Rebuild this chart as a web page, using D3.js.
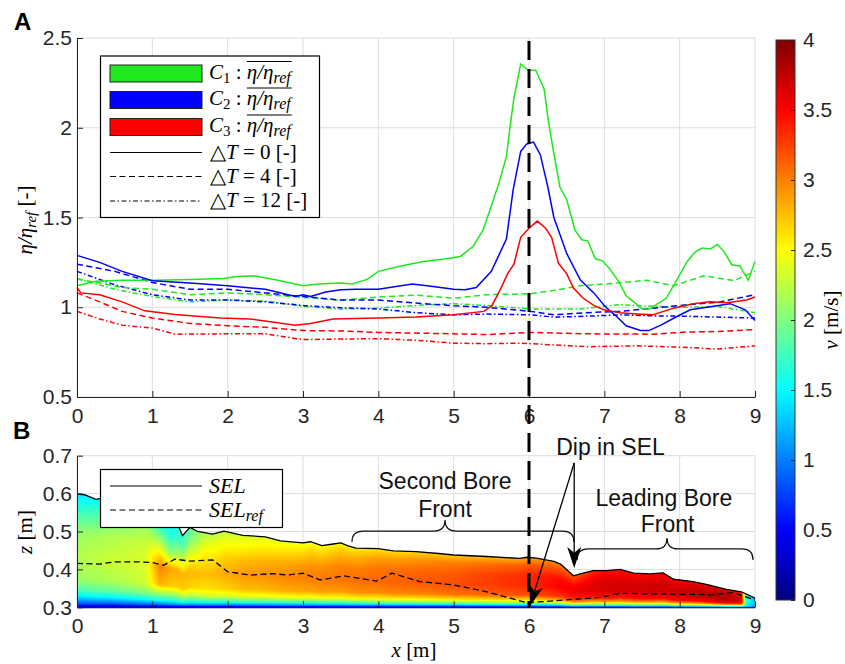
<!DOCTYPE html>
<html lang="en">
<head>
<meta charset="UTF-8">
<title>Bore fronts: eta/eta_ref and SEL</title>
<script src="https://d3js.org/d3.v7.min.js"></script>
<style>
  body { margin: 0; background: #fff; }
  svg { display: block; font-family: "Liberation Sans", Arial, sans-serif; }
  .math { font-family: "Liberation Serif", "Times New Roman", serif; }
</style>
</head>
<body>
<svg id="chart" width="845" height="664"></svg>
<script>
// ---- panel A: eta/eta_ref along the flume, [x, value]
const C1_DT0 = [[0,1.12],[0.25,1.145],[0.6,1.15],[1,1.15],[1.5,1.155],[1.95,1.16],[2.1,1.17],[2.35,1.175],[2.7,1.148],[3,1.12],[3.2,1.13],[3.5,1.135],[3.65,1.13],[3.85,1.155],[4,1.2],[4.3,1.23],[4.6,1.255],[4.9,1.27],[5.09,1.283],[5.26,1.34],[5.39,1.43],[5.48,1.54],[5.6,1.69],[5.7,1.84],[5.75,2.01],[5.8,2.166],[5.89,2.355],[5.99,2.32],[6.09,2.32],[6.2,2.216],[6.26,2.03],[6.32,1.88],[6.41,1.67],[6.5,1.6],[6.61,1.43],[6.7,1.376],[6.78,1.37],[6.88,1.27],[6.97,1.26],[7.06,1.22],[7.19,1.144],[7.29,1.064],[7.39,1.03],[7.5,0.99],[7.6,0.99],[7.69,1.014],[7.82,1.05],[7.96,1.15],[8.1,1.255],[8.21,1.31],[8.3,1.33],[8.41,1.325],[8.5,1.35],[8.59,1.31],[8.69,1.237],[8.8,1.23],[8.91,1.15],[9,1.255]];
const C2_DT0 = [[0,1.289],[0.3,1.25],[0.6,1.2],[1,1.148],[1.5,1.135],[2,1.12],[2.5,1.1],[2.9,1.06],[3,1.07],[3.1,1.06],[3.3,1.085],[3.5,1.098],[3.7,1.1],[4,1.1],[4.45,1.13],[4.65,1.12],[5,1.1],[5.15,1.098],[5.3,1.11],[5.5,1.2],[5.7,1.38],[5.79,1.655],[5.89,1.868],[5.97,1.91],[6.06,1.92],[6.15,1.85],[6.25,1.67],[6.33,1.5],[6.39,1.43],[6.5,1.3],[6.68,1.153],[6.86,1.08],[7.01,1.004],[7.16,0.95],[7.29,0.897],[7.48,0.87],[7.59,0.87],[7.75,0.9],[7.97,0.95],[8.14,0.986],[8.36,1.0],[8.67,1.02],[8.87,0.986],[9,0.926]];
const C3_DT0 = [[0,1.11],[0.05,1.08],[0.3,1.07],[0.6,1.03],[0.9,0.98],[1.3,0.96],[1.9,0.94],[2.3,0.935],[2.9,0.9],[3.1,0.91],[3.4,0.935],[4,0.94],[4.5,0.945],[5,0.958],[5.4,0.977],[5.51,1.01],[5.62,1.1],[5.72,1.19],[5.8,1.24],[5.89,1.39],[6.0,1.44],[6.11,1.48],[6.22,1.44],[6.3,1.39],[6.39,1.246],[6.5,1.187],[6.59,1.107],[6.72,1.05],[6.86,1.01],[6.99,0.986],[7.21,0.97],[7.43,0.963],[7.65,0.958],[7.92,0.995],[8.18,1.02],[8.4,1.03],[8.63,1.025],[8.89,1.04],[9,1.057]];
const C1_DT4 = [[0,1.157],[0.3,1.135],[0.6,1.11],[1,1.1],[1.5,1.07],[2,1.08],[2.5,1.07],[3,1.055],[3.5,1.04],[4,1.057],[4.5,1.068],[5,1.05],[5.44,1.07],[6.02,1.075],[6.33,1.094],[6.68,1.12],[7.03,1.13],[7.56,1.15],[7.92,1.12],[8.32,1.175],[8.72,1.148],[9,1.2]];
const C2_DT4 = [[0,1.24],[0.5,1.2],[1,1.138],[1.5,1.1],[2,1.1],[2.5,1.08],[3,1.06],[3.5,1.04],[4,1.04],[4.5,1.023],[5,1.008],[5.44,1.0],[6.02,0.977],[6.33,0.958],[6.77,0.97],[7.21,0.977],[7.65,0.995],[8.1,1.014],[8.5,1.027],[9,1.07]];
const C3_DT4 = [[0,1.08],[0.3,1.03],[0.6,0.977],[1,0.94],[1.5,0.91],[2,0.897],[2.5,0.888],[3,0.87],[3.5,0.868],[4,0.86],[5,0.852],[5.44,0.848],[6.02,0.86],[6.77,0.852],[7.65,0.85],[8.1,0.862],[8.5,0.865],[9,0.875]];
const C1_DT12 = [[0,1.16],[0.5,1.1],[1,1.06],[1.5,1.03],[2,1.04],[2.5,1.035],[3,1.005],[3.5,0.99],[4,0.995],[4.5,1.01],[5,1.02],[5.44,1.01],[6.02,0.99],[6.68,0.99],[7.2,1.014],[7.65,1.005],[8.1,1.0],[8.5,1.005],[9,0.97]];
const C2_DT12 = [[0,1.2],[0.5,1.125],[1,1.07],[1.5,1.04],[2,1.04],[2.5,1.03],[3,1.01],[3.5,0.997],[4,0.99],[4.5,0.97],[5,0.958],[5.44,0.962],[6.02,0.958],[6.33,0.945],[6.77,0.95],[7.21,0.958],[7.65,0.952],[8.1,0.95],[8.5,0.945],[9,0.94]];
const C3_DT12 = [[0,0.977],[0.3,0.935],[0.6,0.9],[1,0.884],[1.3,0.85],[2,0.852],[2.5,0.852],[3,0.82],[3.5,0.823],[4,0.825],[4.5,0.816],[5,0.8],[5.44,0.797],[5.9,0.8],[6.77,0.78],[7.43,0.785],[8.1,0.776],[8.5,0.767],[9,0.785]];

// ---- panel B: surface elevation [x, z]
const SEL = [[0,0.599],[0.1,0.597],[0.25,0.585],[0.4,0.59],[0.7,0.57],[1.0,0.55],[1.3,0.52],[1.35,0.513],[1.4,0.489],[1.5,0.511],[1.6,0.5],[1.8,0.493],[1.95,0.501],[2.2,0.49],[2.5,0.486],[2.7,0.475],[3,0.47],[3.1,0.473],[3.25,0.463],[3.4,0.467],[3.5,0.47],[3.6,0.462],[3.7,0.456],[4,0.455],[4.2,0.449],[4.5,0.447],[4.8,0.442],[5,0.438],[5.44,0.434],[5.88,0.429],[5.97,0.432],[6.1,0.43],[6.33,0.421],[6.42,0.414],[6.53,0.394],[6.59,0.383],[6.68,0.388],[6.85,0.397],[7.03,0.397],[7.21,0.4],[7.39,0.39],[7.6,0.388],[7.78,0.391],[7.92,0.374],[8.18,0.368],[8.37,0.36],[8.62,0.347],[8.82,0.341],[9,0.324]];
const SEL_REF = [[0,0.416],[0.3,0.414],[0.5,0.42],[0.8,0.42],[1,0.418],[1.15,0.411],[1.3,0.427],[1.5,0.422],[1.8,0.425],[2,0.394],[2.3,0.385],[2.6,0.389],[2.8,0.385],[3,0.39],[3.23,0.372],[3.54,0.383],[3.98,0.369],[4.18,0.39],[4.55,0.368],[5,0.359],[5.44,0.341],[5.75,0.324],[5.97,0.312],[6.32,0.317],[6.94,0.326],[7.21,0.337],[7.87,0.335],[8.41,0.333],[8.71,0.339],[9,0.319]];

// velocity field v [m/s]: rows = fraction of depth above bed, columns = x
const FIELD_X = [0, 0.5, 0.9, 1.1, 1.25, 1.4, 1.7, 2.2, 3, 4, 5, 6, 6.4, 7, 8, 8.6, 8.82, 8.88, 9];
const FIELD_F = [0, 0.03, 0.08, 0.15, 0.25, 0.45, 0.65, 0.85, 1];
const FIELD_V = [
  [0.25,0.25,0.25,0.25,0.25,0.25,0.25,0.25,0.25,0.25,0.25,0.25,0.25,0.25,0.25,0.25,0.25,0.25,0.25],
  [0.8,0.8,0.9,0.9,1.0,1.0,1.0,1.0,1.0,1.0,1.0,1.1,1.1,1.2,1.2,1.2,1.2,0.9,0.8],
  [1.3,1.4,1.5,1.6,1.6,1.7,1.7,1.8,1.8,1.9,1.9,2.0,2.0,2.1,2.1,2.1,2.0,1.4,1.0],
  [1.8,1.9,2.0,2.1,2.1,2.2,2.3,2.4,2.45,2.55,2.6,2.65,2.75,2.85,2.85,2.9,2.8,1.6,1.1],
  [2.1,2.2,2.3,2.8,2.7,2.7,2.6,2.75,2.85,2.95,3.05,3.2,3.3,3.4,3.45,3.55,3.4,1.6,1.1],
  [2.2,2.3,2.35,3.0,2.85,2.8,2.75,2.9,3.0,3.1,3.2,3.35,3.5,3.65,3.7,3.8,3.7,1.7,1.2],
  [2.1,2.2,2.3,2.4,2.0,2.3,2.6,2.75,2.9,3.05,3.15,3.35,3.45,3.65,3.7,3.8,3.6,1.7,1.2],
  [1.7,1.9,2.1,1.8,1.6,1.8,2.4,2.5,2.65,2.85,3.0,3.15,3.2,3.55,3.6,3.7,3.5,1.6,1.2],
  [1.4,1.6,1.9,1.6,1.5,1.7,2.2,2.35,2.45,2.6,2.7,2.8,3.0,3.45,3.5,3.6,3.4,1.6,1.2]
];

const X_TICKS = [0, 1, 2, 3, 4, 5, 6, 7, 8, 9];
const A_TICKS = [0.5, 1, 1.5, 2, 2.5];
const B_TICKS = [0.3, 0.4, 0.5, 0.6, 0.7];
const V_TICKS = [0, 0.5, 1, 1.5, 2, 2.5, 3, 3.5, 4];
const JET_V = [0, 0.5, 1.5, 2.5, 3.5, 4];
const JET_C = ["#000080", "#0000ff", "#00ffff", "#ffff00", "#ff0000", "#800000"];

const GREEN = "#1ee81e", BLUE = "#0000ff", RED = "#ff0000";
const DASH = "6,3.5", DASHDOT = "5,2.5,1.5,2.5";

const svg = d3.select("#chart");
const x = d3.scaleLinear().domain([0, 9]).range([77, 755]);
const yA = d3.scaleLinear().domain([0.5, 2.5]).range([397, 38]);
const yB = d3.scaleLinear().domain([0.3, 0.7]).range([607.3, 455.7]);
const vY = d3.scaleLinear().domain([0, 4]).range([600, 40]);
const jet = d3.scaleLinear().domain(JET_V).range(JET_C).clamp(true);
const fmt = d3.format("~g");

function grid(yScale, yTicks) {
  const g = svg.append("g").attr("stroke", "#dedede").attr("stroke-width", 1);
  g.selectAll(".gx").data(X_TICKS).join("line").attr("class", "gx")
    .attr("x1", d => x(d)).attr("x2", d => x(d))
    .attr("y1", yScale.range()[0]).attr("y2", yScale.range()[1]);
  g.selectAll(".gy").data(yTicks).join("line").attr("class", "gy")
    .attr("x1", x.range()[0]).attr("x2", x.range()[1])
    .attr("y1", d => yScale(d)).attr("y2", d => yScale(d));
}

function axes(yScale, yTicks) {
  const gx = svg.append("g").attr("transform", `translate(0,${yScale.range()[0]})`)
    .call(d3.axisBottom(x).tickValues(X_TICKS).tickSize(-6).tickSizeOuter(0).tickPadding(11).tickFormat(fmt));
  const gy = svg.append("g").attr("transform", `translate(${x.range()[0]},0)`)
    .call(d3.axisLeft(yScale).tickValues(yTicks).tickSize(-6).tickSizeOuter(0).tickPadding(5).tickFormat(fmt));
  [gx, gy].forEach(g => g.attr("font-size", 21).attr("font-family", null).attr("color", "#262626"));
}

const line = yScale => d3.line().x(d => x(d[0])).y(d => yScale(d[1]));

// ---------- panel A ----------
grid(yA, A_TICKS);
const seriesA = [
  { d: C1_DT12, c: GREEN, dash: DASHDOT }, { d: C2_DT12, c: BLUE, dash: DASHDOT }, { d: C3_DT12, c: RED, dash: DASHDOT },
  { d: C1_DT4, c: GREEN, dash: DASH }, { d: C2_DT4, c: BLUE, dash: DASH }, { d: C3_DT4, c: RED, dash: DASH },
  { d: C1_DT0, c: GREEN, dash: null }, { d: C2_DT0, c: BLUE, dash: null }, { d: C3_DT0, c: RED, dash: null }
];
svg.append("g").selectAll("path").data(seriesA).join("path")
  .attr("d", s => line(yA)(s.d)).attr("fill", "none")
  .attr("stroke", s => s.c).attr("stroke-width", 1.5)
  .attr("stroke-dasharray", s => s.dash);
axes(yA, A_TICKS);

// legend A
const legA = svg.append("g");
legA.append("rect").attr("x", 100.5).attr("y", 56).attr("width", 219).attr("height", 161.5)
  .attr("fill", "#fff").attr("stroke", "#000").attr("stroke-width", 1.2);
const patches = [{ c: GREEN, n: "1", y: 73.5 }, { c: BLUE, n: "2", y: 100 }, { c: RED, n: "3", y: 127 }];
patches.forEach(p => {
  legA.append("rect").attr("x", 110).attr("y", p.y - 8.5).attr("width", 92).attr("height", 17)
    .attr("fill", p.c).attr("stroke", "#222").attr("stroke-width", 1);
  const t = legA.append("text").attr("class", "math").attr("x", 209).attr("y", p.y + 5).attr("font-size", 21);
  t.append("tspan").attr("font-style", "italic").text("C");
  t.append("tspan").attr("font-size", 15).attr("dy", 4).text(p.n);
  t.append("tspan").attr("dy", -4).text(" : ");
  t.append("tspan").attr("font-style", "italic").text("η/η");
  t.append("tspan").attr("font-style", "italic").attr("font-size", 16).attr("dy", 4).text("ref");
  const node = t.node();
  const x0 = node.getStartPositionOfChar(5).x, x1 = node.getEndPositionOfChar(node.getNumberOfChars() - 1).x;
  legA.append("line").attr("x1", x0).attr("x2", x1 + 1).attr("y1", p.y - 12).attr("y2", p.y - 12)
    .attr("stroke", "#000").attr("stroke-width", 1);
});
const dts = [{ v: "0", y: 152.5, dash: null }, { v: "4", y: 176.5, dash: DASH }, { v: "12", y: 201, dash: DASHDOT }];
dts.forEach(p => {
  legA.append("line").attr("x1", 110).attr("x2", 202).attr("y1", p.y).attr("y2", p.y)
    .attr("stroke", "#000").attr("stroke-width", 1.2).attr("stroke-dasharray", p.dash);
  const t = legA.append("text").attr("class", "math").attr("x", 210).attr("y", p.y + 6).attr("font-size", 21);
  t.append("tspan").text("△");
  t.append("tspan").attr("font-style", "italic").text("T");
  t.append("tspan").text(` = ${p.v} [-]`);
});

// ---------- panel B ----------
grid(yB, B_TICKS);

// velocity field, clipped by SEL
const fx0 = 77, fy0 = 455, fw = 678, fh = 153;
const canvas = document.createElement("canvas");
canvas.width = fw; canvas.height = fh;
const ctx = canvas.getContext("2d");
const img = ctx.createImageData(fw, fh);
const selAt = d3.scaleLinear().domain(SEL.map(d => d[0])).range(SEL.map(d => d[1])).clamp(true);
const rowAt = FIELD_V.map(r => d3.scaleLinear().domain(FIELD_X).range(r).clamp(true));
const dz = yB.invert(0) - yB.invert(1);
for (let i = 0; i < fw; i++) {
  const xv = x.invert(fx0 + i + 0.5);
  const top = selAt(xv);
  const col = d3.scaleLinear().domain(FIELD_F).range(rowAt.map(s => s(xv))).clamp(true);
  for (let j = 0; j < fh; j++) {
    const zv = yB.invert(fy0 + j + 0.5);
    const a = Math.max(0, Math.min(1, (top - zv) / dz + 0.5));
    if (a <= 0) continue;
    const f = Math.max(0, (zv - 0.3) / (top - 0.3));
    const c = d3.rgb(jet(col(f)));
    const k = (j * fw + i) * 4;
    img.data[k] = c.r; img.data[k + 1] = c.g; img.data[k + 2] = c.b; img.data[k + 3] = Math.round(a * 255);
  }
}
ctx.putImageData(img, 0, 0);
svg.append("image").attr("x", fx0).attr("y", fy0).attr("width", fw).attr("height", fh)
  .attr("href", canvas.toDataURL());

svg.append("path").attr("d", line(yB)(SEL_REF)).attr("fill", "none")
  .attr("stroke", "#000").attr("stroke-width", 1.3).attr("stroke-dasharray", DASH);
svg.append("path").attr("d", line(yB)(SEL)).attr("fill", "none")
  .attr("stroke", "#000").attr("stroke-width", 1.3);
axes(yB, B_TICKS);

// legend B
const legB = svg.append("g");
legB.append("rect").attr("x", 100.5).attr("y", 469.5).attr("width", 182).attr("height", 58)
  .attr("fill", "#fff").attr("stroke", "#000").attr("stroke-width", 1.2);
[{ y: 486, dash: null, sub: false }, { y: 510, dash: DASH, sub: true }].forEach(p => {
  legB.append("line").attr("x1", 110).attr("x2", 202).attr("y1", p.y).attr("y2", p.y)
    .attr("stroke", "#000").attr("stroke-width", 1.2).attr("stroke-dasharray", p.dash);
  const t = legB.append("text").attr("class", "math").attr("x", 209).attr("y", p.y + 7)
    .attr("font-size", 22).attr("font-style", "italic");
  t.append("tspan").text("SEL");
  if (p.sub) t.append("tspan").attr("font-size", 16).attr("dy", 4).text("ref");
});

// annotations
const ann = svg.append("g").attr("font-size", 23).attr("text-anchor", "middle").attr("fill", "#111");
[["Second Bore", 4.885, 0.612], ["Front", 4.885, 0.539], ["Dip in SEL", 7.082, 0.702],
 ["Leading Bore", 7.79, 0.567], ["Front", 7.84, 0.4995]].forEach(([s, xv, zv]) =>
  ann.append("text").attr("x", x(xv)).attr("y", yB(zv)).text(s));

function brace(x1, x2, xm, yb, r) {
  return `M${x1},${yb + r} Q${x1},${yb} ${x1 + r},${yb} L${xm - r},${yb} Q${xm},${yb} ${xm},${yb - r}` +
    ` Q${xm},${yb} ${xm + r},${yb} L${x2 - r},${yb} Q${x2},${yb} ${x2},${yb + r}`;
}
const braces = svg.append("g").attr("fill", "none").attr("stroke", "#111").attr("stroke-width", 1.2);
braces.append("path").attr("d", brace(x(3.65), x(6.597), x(4.885), yB(0.501), 11));
braces.append("path").attr("d", brace(x(6.637), x(8.974), x(7.832), yB(0.454), 11));

// vertical marker at x = 6 through both panels
svg.append("line").attr("x1", x(6)).attr("x2", x(6)).attr("y1", yA(2.5) + 3).attr("y2", yB(0.3))
  .attr("stroke", "#000").attr("stroke-width", 3).attr("stroke-dasharray", "19,9");

function arrow(x0, y0, x1, y1) {
  const len = Math.hypot(x1 - x0, y1 - y0), ux = (x1 - x0) / len, uy = (y1 - y0) / len;
  const L = 21, w = 7, nx = -uy, ny = ux;
  const bx = x1 - ux * L, by = y1 - uy * L, mx = x1 - ux * L * 0.72, my = y1 - uy * L * 0.72;
  svg.append("line").attr("x1", x0).attr("y1", y0).attr("x2", mx).attr("y2", my)
    .attr("stroke", "#000").attr("stroke-width", 1.3);
  svg.append("path").attr("fill", "#000")
    .attr("d", `M${x1},${y1} L${bx + nx * w},${by + ny * w} L${mx},${my} L${bx - nx * w},${by - ny * w} Z`);
}
arrow(x(6.6), yB(0.681), x(6.013), yB(0.3034));
arrow(x(6.6), yB(0.681), x(6.6), yB(0.404));

// ---------- colorbar ----------
const grad = svg.append("defs").append("linearGradient").attr("id", "jet")
  .attr("x1", 0).attr("y1", 1).attr("x2", 0).attr("y2", 0);
grad.selectAll("stop").data(JET_V).join("stop")
  .attr("offset", d => d / 4).attr("stop-color", d => jet(d));
svg.append("rect").attr("x", 776).attr("y", vY(4)).attr("width", 19).attr("height", vY(0) - vY(4))
  .attr("fill", "url(#jet)").attr("stroke", "#333").attr("stroke-width", 1);
svg.append("g").attr("transform", "translate(795,0)")
  .call(d3.axisRight(vY).tickValues(V_TICKS).tickSize(-4).tickSizeOuter(0).tickPadding(8).tickFormat(fmt))
  .attr("font-size", 21).attr("font-family", null).attr("color", "#262626")
  .call(g => g.select(".domain").remove());

// ---------- labels ----------
const lab = (tx, ty, rot) => svg.append("text").attr("class", "math").attr("font-size", 21)
  .attr("text-anchor", "middle").attr("transform", `translate(${tx},${ty}) rotate(${rot})`);
let t = lab(32, 220, -90);
t.append("tspan").attr("font-style", "italic").text("η/η");
t.append("tspan").attr("font-style", "italic").attr("font-size", 15).attr("dy", 4).text("ref");
t.append("tspan").attr("dy", -4).text("  [-]");
t = lab(32, 532, -90);
t.append("tspan").attr("font-style", "italic").text("z");
t.append("tspan").text(" [m]");
t = lab(414, 657, 0);
t.append("tspan").attr("font-style", "italic").text("x");
t.append("tspan").text(" [m]");
t = lab(838, 320, -90);
t.append("tspan").attr("font-style", "italic").text("v");
t.append("tspan").text(" [m/s]");

svg.append("text").attr("x", 14).attr("y", 30).attr("font-size", 24).attr("font-weight", "bold").text("A");
svg.append("text").attr("x", 13).attr("y", 439).attr("font-size", 24).attr("font-weight", "bold").text("B");
</script>
</body>
</html>
